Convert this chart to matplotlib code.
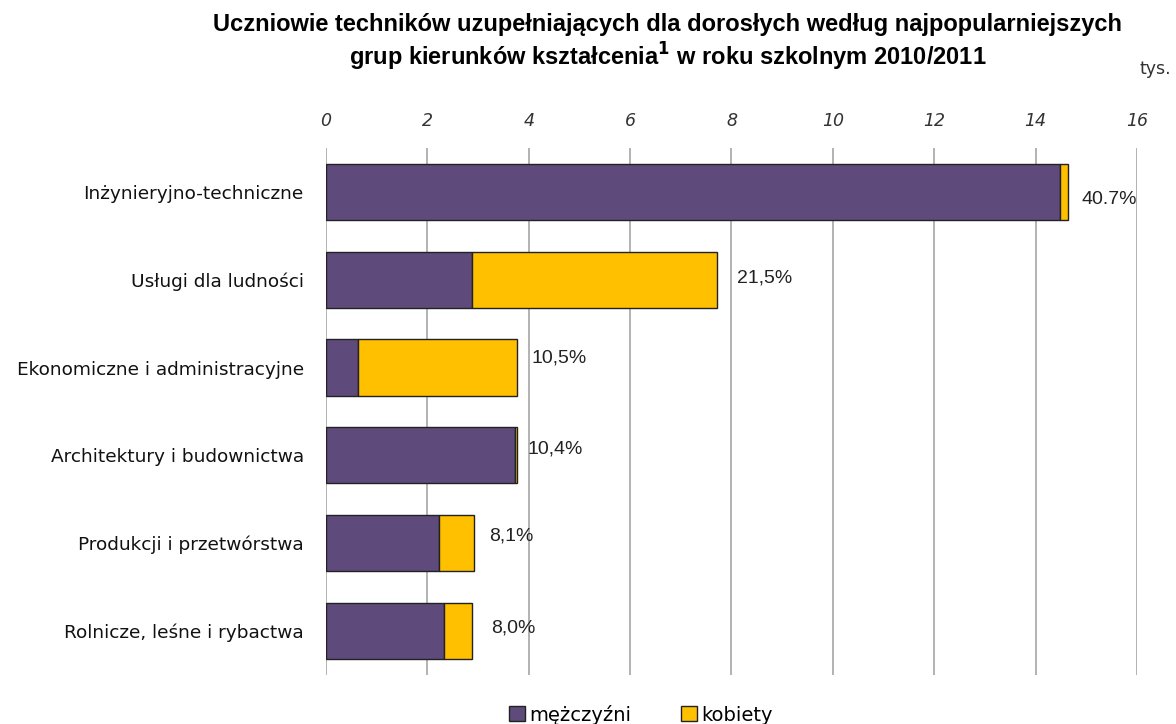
import matplotlib
matplotlib.use("Agg")
import matplotlib.pyplot as plt
from matplotlib.patches import Patch
import numpy as np

# dane (tys.)
categories = ["Inżynieryjno-techniczne", "Usługi dla ludności",
              "Ekonomiczne i administracyjne", "Architektury i budownictwa",
              "Produkcji i przetwórstwa", "Rolnicze, leśne i rybactwa"]
men = [14.49, 2.89, 0.63, 3.72, 2.22, 2.32]
women = [0.14, 4.83, 3.13, 0.04, 0.71, 0.57]
shares = ["40.7%", "21,5%", "10,5%", "10,4%", "8,1%", "8,0%"]
xticks = [0, 2, 4, 6, 8, 10, 12, 14, 16]

purple = "#5F4B7B"
yellow = "#FFC000"

fig = plt.figure(figsize=(11.76, 7.24), dpi=100)
ax = fig.add_axes([0.2772, 0.0677, 0.6896, 0.728])

y = np.arange(len(categories))
ax.barh(y, men, height=0.64, color=purple, edgecolor="#222222", linewidth=1, zorder=3)
ax.barh(y, women, left=men, height=0.64, color=yellow, edgecolor="#222222", linewidth=1, zorder=3)

# przesuniecia etykiet procentowych jak w oryginale
dx = [0.28, 0.39, 0.30, 0.22, 0.28, 0.37]
dy = [0.09, -0.02, -0.11, -0.07, -0.08, -0.03]
for i in range(len(categories)):
    tot = men[i] + women[i]
    ax.text(tot + dx[i], y[i] + dy[i], shares[i], va="center", ha="left",
            fontsize=14, color="#222222", fontfamily="Liberation Sans")

ax.set_xlim(0, 16)
ax.set_ylim(len(categories) - 0.5, -0.5)
ax.set_xticks(xticks)
ax.set_xticklabels([str(t) for t in xticks], fontstyle="italic", fontsize=12.5, color="#333333")
ax.xaxis.tick_top()
ax.tick_params(axis="x", length=0, pad=13)
ax.set_yticks(y)
ax.set_yticklabels(categories, fontsize=13.3, color="#111111")
ax.tick_params(axis="y", length=0, pad=16)
ax.grid(axis="x", color="#A6A6A6", linewidth=1.2, zorder=0)
for s in ax.spines.values():
    s.set_visible(False)

fig.text(0.568, 0.982, "Uczniowie techników uzupełniających dla dorosłych według najpopularniejszych\n"
         r"grup kierunków kształcenia$^{\mathbf{1}}$ w roku szkolnym 2010/2011",
         ha="center", va="top", fontsize=17, fontweight="bold",
         fontfamily=["Liberation Sans", "DejaVu Sans"], linespacing=1.2)
fig.text(0.969, 0.898, "tys.", fontsize=12.5, color="#333333", ha="left")

handles = [Patch(facecolor=purple, edgecolor="#222222"), Patch(facecolor=yellow, edgecolor="#222222")]
fig.legend(handles, ["mężczyźni", "kobiety"], loc="lower center", bbox_to_anchor=(0.545, -0.025),
           ncol=2, frameon=False, fontsize=14, handlelength=0.8, handleheight=0.8,
           handletextpad=0.2, columnspacing=2.6)

fig.savefig("out.png", dpi=100)
